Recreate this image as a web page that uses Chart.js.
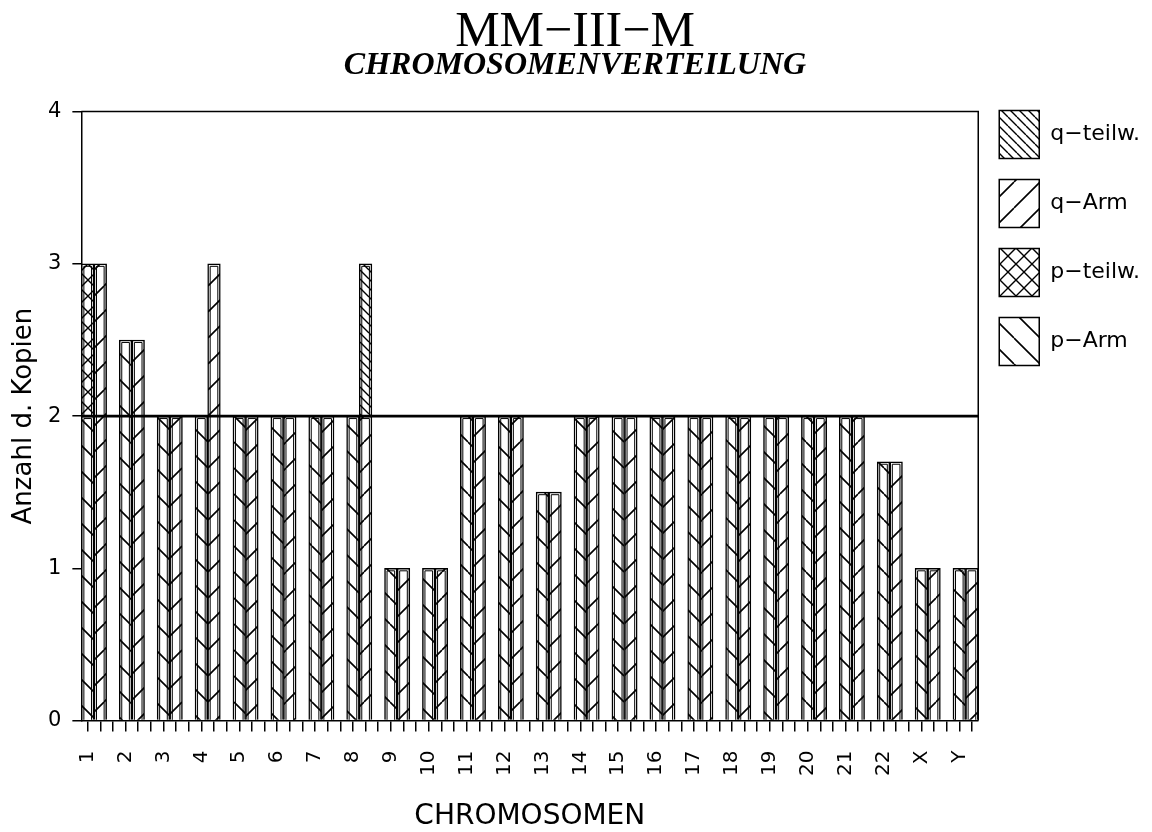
<!DOCTYPE html>
<html lang="de">
<head>
<meta charset="utf-8">
<title>MM-III-M Chromosomenverteilung</title>
<script src="https://cdn.jsdelivr.net/npm/chart.js@4.4.1/dist/chart.umd.min.js"></script>
<style>
  html, body { margin: 0; padding: 0; background: #fff; }
  #chromosomeCanvas { display: block; }
</style>
</head>
<body>
<canvas id="chromosomeCanvas" width="1152" height="832"></canvas>
<script>
// --- data ---
const chromosomes = ['1', '2', '3', '4', '5', '6', '7', '8', '9', '10', '11', '12',
                     '13', '14', '15', '16', '17', '18', '19', '20', '21', '22', 'X', 'Y'];
const pArm   = [2, 2.5, 2, 2, 2, 2, 2, 2, 1, 1, 2, 2, 1.5, 2, 2, 2, 2, 2, 2, 2, 2, 1.7, 1, 1];
const pTeilw = [1, null, null, null, null, null, null, null, null, null, null, null,
                null, null, null, null, null, null, null, null, null, null, null, null];
const qArm   = [3, 2.5, 2, 3, 2, 2, 2, 2, 1, 1, 2, 2, 1.5, 2, 2, 2, 2, 2, 2, 2, 2, 1.7, 1, 1];
const qTeilw = [null, null, null, null, null, null, null, 1, null, null, null, null,
                null, null, null, null, null, null, null, null, null, null, null, null];
const yTicks = [0, 1, 2, 3, 4];
const REFERENCE_LEVEL = 2;   // normal diploid count, drawn as the heavy line

// each chromosome takes three tick slots: p bar, q bar, gap
const SLOTS = 3;

document.addEventListener('DOMContentLoaded', () => {
    const canvas = document.getElementById('chromosomeCanvas');

    function hatch(period, dirs, lineWidth) {
        const c = document.createElement('canvas');
        c.width = period;
        c.height = period;
        const g = c.getContext('2d');
        g.fillStyle = '#fff';
        g.fillRect(0, 0, period, period);
        g.strokeStyle = '#000';
        g.lineWidth = lineWidth;
        g.beginPath();
        for (let k = -1; k <= 1; k++) {
            if (dirs.includes('\\')) {
                g.moveTo(k * period, 0);
                g.lineTo(k * period + period, period);
            }
            if (dirs.includes('/')) {
                g.moveTo(k * period, period);
                g.lineTo(k * period + period, 0);
            }
        }
        g.stroke();
        return g.createPattern(c, 'repeat');
    }

    const ctx = canvas.getContext('2d');
    const patterns = {
        pArm: hatch(26, ['\\'], 1.6),
        pTeilw: hatch(16, ['\\', '/'], 1.4),
        qArm: hatch(26, ['/'], 1.6),
        qTeilw: hatch(9, ['\\'], 1.4)
    };

    const toPoints = arr => arr.map((v, i) => ({ x: SLOTS * i + 0.5, y: v }));

    const barStyle = {
        borderColor: '#000',
        borderWidth: 1.5,
        barThickness: 'flex',
        categoryPercentage: 2 / 3,
        barPercentage: 1
    };

    // inner outline of the bars (the plotter drew them double),
    // frame on top / right and the heavy line at the reference level
    const frameAndReference = {
        id: 'frameAndReference',
        afterDatasetsDraw(chart) {
            const { ctx, chartArea: a, scales: { y } } = chart;
            const inset = 2.5;
            ctx.save();
            ctx.strokeStyle = '#000';
            ctx.lineWidth = 1;
            chart.data.datasets.forEach((ds, di) => {
                chart.getDatasetMeta(di).data.forEach((bar, i) => {
                    if (ds.data[i].y == null) return;
                    const { x, y: top, base, width } = bar.getProps(['x', 'y', 'base', 'width'], true);
                    const l = x - width / 2 + inset;
                    const r = x + width / 2 - inset;
                    ctx.beginPath();
                    ctx.moveTo(l, base);
                    ctx.lineTo(l, top + inset);
                    ctx.lineTo(r, top + inset);
                    ctx.lineTo(r, base);
                    ctx.stroke();
                });
            });

            const yRef = y.getPixelForValue(REFERENCE_LEVEL);
            ctx.lineWidth = 1.5;
            ctx.beginPath();
            ctx.moveTo(a.left, a.top);
            ctx.lineTo(a.right, a.top);
            ctx.lineTo(a.right, a.bottom);
            ctx.stroke();
            ctx.lineWidth = 2.6;
            ctx.beginPath();
            ctx.moveTo(a.left, yRef);
            ctx.lineTo(a.right, yRef);
            ctx.stroke();
            ctx.restore();
        }
    };

    // pull the legend column up so the first box sits at the top of the frame
    const legendNudge = {
        id: 'legendNudge',
        afterLayout(chart) {
            chart.legend.top -= chart.legend.options.labels.padding + 1;
        }
    };

    Chart.defaults.font.family = "'DejaVu Sans', sans-serif";
    Chart.defaults.color = '#000';

    new Chart(ctx, {
        type: 'bar',
        data: {
            datasets: [
                { label: 'p−Arm', data: toPoints(pArm), stack: 'p', backgroundColor: patterns.pArm, ...barStyle },
                { label: 'p−teilw.', data: toPoints(pTeilw), stack: 'p', backgroundColor: patterns.pTeilw, ...barStyle },
                { label: 'q−Arm', data: toPoints(qArm), stack: 'q', backgroundColor: patterns.qArm, ...barStyle },
                { label: 'q−teilw.', data: toPoints(qTeilw), stack: 'q', backgroundColor: patterns.qTeilw, ...barStyle }
            ]
        },
        plugins: [frameAndReference, legendNudge],
        options: {
            responsive: false,
            animation: false,
            layout: { padding: { left: 0, right: 2, top: 0, bottom: 1 } },
            scales: {
                x: {
                    type: 'linear',
                    stacked: true,
                    offset: false,
                    min: -0.5,
                    max: SLOTS * chromosomes.length - 1.5,
                    afterBuildTicks: axis => {
                        const ticks = [];
                        for (let v = 0; v <= axis.max; v++) ticks.push({ value: v });
                        axis.ticks = ticks;
                    },
                    ticks: {
                        autoSkip: false,
                        minRotation: 90,
                        maxRotation: 90,
                        padding: 19,
                        font: { size: 20 },
                        callback: value => value % SLOTS === 0 ? chromosomes[value / SLOTS] : ''
                    },
                    grid: {
                        offset: false,
                        drawOnChartArea: false,
                        color: '#000',
                        lineWidth: 1.5,
                        tickLength: 11
                    },
                    border: { display: true, color: '#000', width: 1.5 },
                    title: {
                        display: true,
                        text: 'CHROMOSOMEN',
                        font: { size: 28, lineHeight: 1 },
                        padding: { top: 8, bottom: 0 }
                    }
                },
                y: {
                    stacked: true,
                    min: 0,
                    max: 4,
                    afterBuildTicks: axis => {
                        axis.ticks = yTicks.map(v => ({ value: v }));
                    },
                    ticks: {
                        padding: 11,
                        font: { size: 21 }
                    },
                    grid: {
                        drawOnChartArea: false,
                        color: '#000',
                        lineWidth: 1.5,
                        tickLength: 9
                    },
                    border: { display: true, color: '#000', width: 1.5 },
                    title: {
                        display: true,
                        text: 'Anzahl d. Kopien',
                        font: { size: 26, lineHeight: 1 },
                        padding: { top: 11, bottom: 0 }
                    }
                }
            },
            plugins: {
                title: {
                    display: true,
                    text: 'MM−III−M',
                    font: { family: "'Liberation Serif', serif", size: 50, weight: 'normal', lineHeight: 0.8 },
                    padding: { top: 13, bottom: 0 }
                },
                subtitle: {
                    display: true,
                    text: 'CHROMOSOMENVERTEILUNG',
                    font: { family: "'Liberation Serif', serif", size: 32, style: 'italic', weight: 'bold', lineHeight: 0.8 },
                    color: '#000',
                    padding: { top: 0, bottom: 33 }
                },
                legend: {
                    position: 'right',
                    align: 'start',
                    fullSize: false,
                    reverse: true,
                    labels: {
                        boxWidth: 40,
                        boxHeight: 48,
                        padding: 21,
                        font: { size: 22 },
                        color: '#000'
                    }
                },
                tooltip: { enabled: false }
            }
        }
    });
});
</script>
</body>
</html>
